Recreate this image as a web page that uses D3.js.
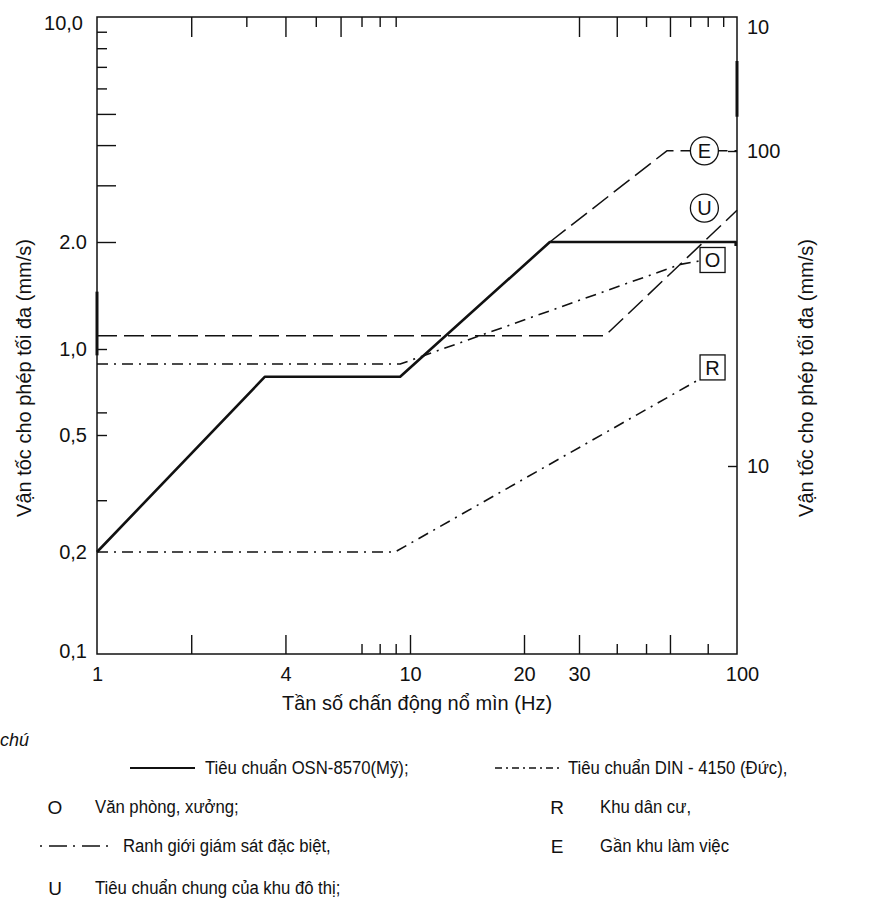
<!DOCTYPE html>
<html><head><meta charset="utf-8">
<script src="https://cdn.jsdelivr.net/npm/d3@7"></script>
<style>
body{margin:0;background:#fff}
text{font-family:"Liberation Sans",Arial,sans-serif;fill:#111}
</style>
</head><body><svg id="c" width="881" height="910"></svg>
<script>
// ---------- data ----------
const xTickValues = [1, 4, 10, 20, 30, 100];
const xTickLabels = ["1", "4", "10", "20", "30", "100"];
const xBottomLong = [2, 4, 10, 20, 30, 60];
const xBottomShort = [7, 8, 9, 40, 50, 80];
const xTopLong = [2, 4, 6, 30, 40, 60];
const xTopShort = [3, 5, 7, 8, 9, 50, 70, 80, 90];
const yTickValues = [0.1, 0.2, 0.5, 1, 2, 10];
const yTickLabels = ["0,1", "0,2", "0,5", "1,0", "2.0", "10,0"];
const yLong = [2, 3, 4, 5];
const yShort = [0.3, 0.5, 0.6, 1, 6, 7, 8, 9];
const rightTickValues = [10, 100];
const rightTickLabels = ["10", "100"];
const rightTopLabel = "10";

// series: [frequency Hz, velocity mm/s]
const osn8570 = [[1, 0.2], [3.44, 0.8], [9.3, 0.8], [24.2, 2.0], [99, 2.0], [99, 1.95]];
const dinOffice = [[1, 0.886], [9.3, 0.886], [65, 1.73], [75.4, 1.77]];
const dinResidential = [[1, 0.2], [8.96, 0.2], [75.4, 0.785]];
const boundaryU = [[1, 1.09], [36.6, 1.09], [100, 2.51]];
const boundaryE = [[24.2, 2.0], [58.6, 3.84], [100, 3.84]];
const markers = [
  {f: 78, v: 3.84, t: "E", shape: "circle"},
  {f: 78, v: 2.55, t: "U", shape: "circle"},
  {f: 83, v: 1.78, t: "O", shape: "rect"},
  {f: 83, v: 0.862, t: "R", shape: "rect"}
];

const xTitle = "Tần số chấn động nổ mìn (Hz)";
const yTitle = "Vận tốc cho phép tối đa (mm/s)";
const legendHead = "chú";
const legendRows = [
  {sym: "solid", text: "Tiêu chuẩn OSN-8570(Mỹ);", col: 0, row: 0},
  {sym: "dashdot", text: "Tiêu chuẩn DIN - 4150 (Đức),", col: 1, row: 0},
  {sym: "O", text: "Văn phòng, xưởng;", col: 0, row: 1},
  {sym: "R", text: "Khu dân cư,", col: 1, row: 1},
  {sym: "dashed", text: "Ranh giới giám sát đặc biệt,", col: 0, row: 2},
  {sym: "E", text: "Gần khu làm việc", col: 1, row: 2},
  {sym: "U", text: "Tiêu chuẩn chung của khu đô thị;", col: 0, row: 3}
];

// ---------- layout ----------
const L = 97, R = 737, T = 17, B = 654;
const svg = d3.select("#c");
const x = d3.scaleLog().domain([1, 10, 20, 30, 100]).range([L, 410, 524, 579, R]);
const y = d3.scaleLog().domain([0.1, 0.2, 0.5, 1, 2, 10]).range([B, 552, 435, 349, 242, T]);
const yR = d3.scaleLog().domain([10, 100]).range([466, 151]);

const ink = "#111";
function styleAxis(g) {
  g.select(".domain").remove();
  g.selectAll(".tick line").attr("stroke", ink).attr("stroke-width", 1.4);
}
// condensed look of the scanned typeface
function condense(sel, k) {
  sel.each(function() {
    const t = d3.select(this);
    const x0 = +t.attr("x") || 0;
    t.attr("transform", `translate(${x0},0) scale(${k},1) translate(${-x0},0)`);
  });
}

// frame
svg.append("rect").attr("x", L).attr("y", T).attr("width", R - L).attr("height", B - T)
  .attr("fill", "none").attr("stroke", ink).attr("stroke-width", 1.5);
// heavier stretches of the axis lines seen in the scan
svg.append("line").attr("x1", L).attr("x2", L).attr("y1", y(1.45)).attr("y2", y(0.95))
  .attr("stroke", ink).attr("stroke-width", 3);
svg.append("line").attr("x1", R).attr("x2", R).attr("y1", y(7.3)).attr("y2", y(4.9))
  .attr("stroke", ink).attr("stroke-width", 3);

// bottom ticks
svg.append("g").attr("transform", `translate(0,${B})`)
  .call(d3.axisBottom(x).tickValues(xBottomLong).tickSize(-19).tickFormat(""))
  .call(styleAxis);
svg.append("g").attr("transform", `translate(0,${B})`)
  .call(d3.axisBottom(x).tickValues(xBottomShort).tickSize(-10).tickFormat(""))
  .call(styleAxis);
const bl = svg.append("g").attr("transform", `translate(0,${B})`)
  .call(d3.axisBottom(x).tickValues(xTickValues).tickSize(0).tickPadding(13)
    .tickFormat((d, i) => xTickLabels[i]))
  .call(styleAxis);
bl.selectAll("text").attr("font-size", 20);
bl.selectAll(".tick").filter(d => d === 100).select("text").attr("dx", 5);

// top ticks
svg.append("g").attr("transform", `translate(0,${T})`)
  .call(d3.axisTop(x).tickValues(xTopLong).tickSize(-20).tickFormat(""))
  .call(styleAxis);
svg.append("g").attr("transform", `translate(0,${T})`)
  .call(d3.axisTop(x).tickValues(xTopShort).tickSize(-10).tickFormat(""))
  .call(styleAxis);

// left ticks
svg.append("g").attr("transform", `translate(${L},0)`)
  .call(d3.axisLeft(y).tickValues(yLong).tickSize(-19).tickFormat(""))
  .call(styleAxis);
svg.append("g").attr("transform", `translate(${L},0)`)
  .call(d3.axisLeft(y).tickValues(yShort).tickSize(-10).tickFormat(""))
  .call(styleAxis);
const ll = svg.append("g").attr("transform", `translate(${L},0)`)
  .call(d3.axisLeft(y).tickValues(yTickValues).tickSize(0).tickPadding(10)
    .tickFormat((d, i) => yTickLabels[i]))
  .call(styleAxis);
ll.selectAll("text").attr("font-size", 20);
ll.selectAll(".tick").filter(d => d === 10).select("text").attr("dy", "0.6em").attr("dx", -4);
ll.selectAll(".tick").filter(d => d === 0.1).select("text").attr("dy", "0.15em");

// right ticks
const rl = svg.append("g").attr("transform", `translate(${R},0)`)
  .call(d3.axisRight(yR).tickValues(rightTickValues).tickSize(-9).tickPadding(10)
    .tickFormat((d, i) => rightTickLabels[i]))
  .call(styleAxis);
rl.selectAll("text").attr("font-size", 20);
svg.append("text").attr("x", R + 10).attr("y", T + 11).attr("dy", "0.32em")
  .attr("font-size", 20).text(rightTopLabel);

// axis titles
svg.append("text").attr("transform", `translate(${24},${378}) rotate(-90)`)
  .attr("text-anchor", "middle").attr("dy", "0.35em").attr("font-size", 20).text(yTitle);
svg.append("text").attr("transform", `translate(${806},${378}) rotate(-90)`)
  .attr("text-anchor", "middle").attr("dy", "0.35em").attr("font-size", 20).text(yTitle);
svg.append("text").attr("x", (L + R) / 2).attr("y", 703).attr("dy", "0.35em")
  .attr("text-anchor", "middle").attr("font-size", 20).text(xTitle);

// ---------- lines ----------
const line = d3.line().x(d => x(d[0])).y(d => y(d[1]));
const styles = {
  solid: {w: 2.6, dash: null},
  dashed: {w: 1.5, dash: "20,7"},
  dashdot: {w: 1.6, dash: "11,6,2,6"}
};
const series = [
  {data: boundaryU, s: "dashed"},
  {data: boundaryE, s: "dashed"},
  {data: dinOffice, s: "dashdot"},
  {data: dinResidential, s: "dashdot"},
  {data: osn8570, s: "solid"}
];
svg.append("g").selectAll("path").data(series).join("path")
  .attr("d", d => line(d.data)).attr("fill", "none").attr("stroke", ink)
  .attr("stroke-width", d => styles[d.s].w)
  .attr("stroke-dasharray", d => styles[d.s].dash)
  .attr("stroke-linejoin", "round");

// markers
const mg = svg.append("g").selectAll("g").data(markers).join("g")
  .attr("transform", d => `translate(${x(d.f)},${y(d.v)})`);
mg.filter(d => d.shape === "circle").append("circle").attr("r", 14)
  .attr("fill", "#fff").attr("stroke", ink).attr("stroke-width", 1.3);
mg.filter(d => d.shape === "rect").append("rect").attr("x", -12.5).attr("y", -12.5)
  .attr("width", 25).attr("height", 25)
  .attr("fill", "#fff").attr("stroke", ink).attr("stroke-width", 1.3);
mg.append("text").attr("text-anchor", "middle").attr("dy", "0.36em")
  .attr("font-size", 20).text(d => d.t);

// ---------- legend ----------
svg.append("text").attr("x", 0).attr("y", 740).attr("dy", "0.35em")
  .attr("font-size", 18).attr("font-style", "italic").text(legendHead);
const rowY = [768, 807, 846, 888];
const colSym = [[130, 195], [495, 560]];
const colText = [205, 568];
legendRows.forEach(r => {
  const yy = rowY[r.row];
  let tx;
  if (r.sym === "solid" || r.sym === "dashdot") {
    const [a, b] = colSym[r.col];
    svg.append("line").attr("x1", a).attr("x2", b).attr("y1", yy).attr("y2", yy)
      .attr("stroke", ink).attr("stroke-width", r.sym === "solid" ? 2.2 : 1.5)
      .attr("stroke-dasharray", r.sym === "solid" ? null : "7,4,2,4");
    tx = colText[r.col];
  } else if (r.sym === "dashed") {
    svg.append("line").attr("x1", 40).attr("x2", 115).attr("y1", yy).attr("y2", yy)
      .attr("stroke", ink).attr("stroke-width", 1.4).attr("stroke-dasharray", "2,7,18,6");
    tx = 123;
  } else {
    const lx = r.col === 0 ? 55 : 557;
    svg.append("text").attr("x", lx).attr("y", yy).attr("dy", "0.35em")
      .attr("text-anchor", "middle").attr("font-size", 19).text(r.sym);
    tx = r.col === 0 ? 95 : 600;
  }
  svg.append("text").attr("class", "lg").attr("x", tx).attr("y", yy).attr("dy", "0.3em")
    .attr("font-size", 19).text(r.text);
});
condense(svg.selectAll("text.lg"), 0.88);
</script>
</body></html>
